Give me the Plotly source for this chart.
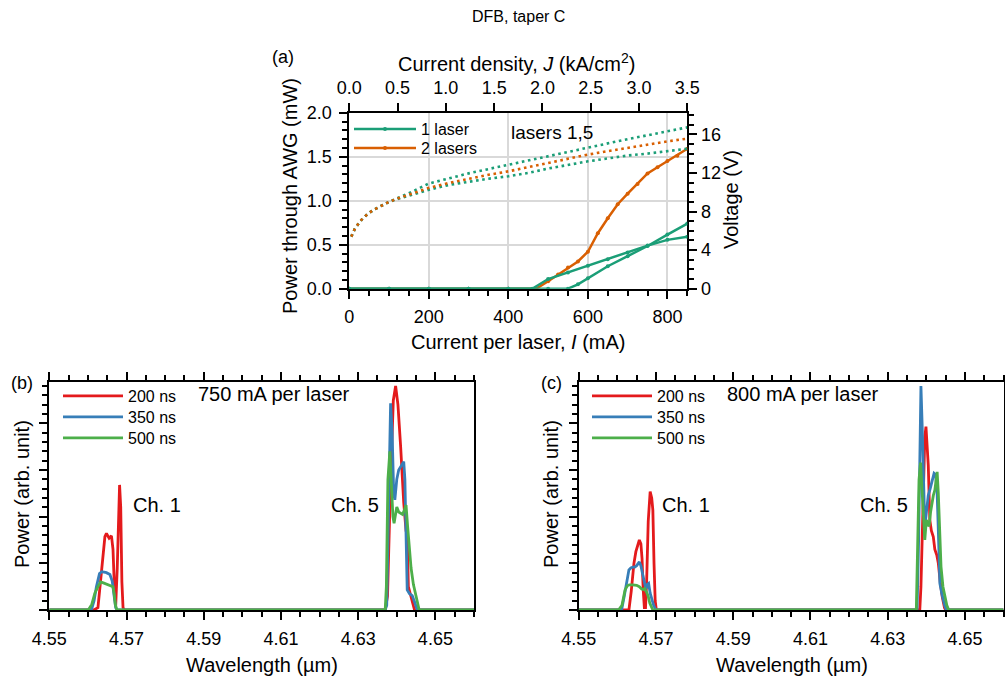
import plotly.graph_objects as go

W, H = 1005, 679
FONT = "Liberation Sans, Arial, sans-serif"

TEAL = "#1b9e77"
ORANGE = "#d95f02"
RED = "#e41a1c"
BLUE = "#377eb8"
GREEN = "#4daf4a"

# ---------------- (a) L-I-V data ----------------
# single-laser output power, two devices (lasers 1 and 5)
current_1a = [0, 100, 200, 300, 400, 460, 500, 550, 600, 650, 700, 750, 800, 850]
power_1a = [0, 0, 0, 0, 0, 0, 0.11, 0.185, 0.26, 0.335, 0.41, 0.49, 0.555, 0.59]
current_1b = [0, 100, 200, 300, 400, 500, 550, 575, 600, 650, 700, 750, 800, 850]
power_1b = [0, 0, 0, 0, 0, 0, 0, 0.05, 0.12, 0.255, 0.37, 0.485, 0.615, 0.74]
# both lasers driven together
current_2 = [0, 100, 200, 300, 400, 470, 500, 525, 550, 575, 600, 625, 650, 675,
             700, 725, 750, 775, 800, 825, 850]
power_2 = [0, 0, 0, 0, 0, 0, 0.085, 0.16, 0.24, 0.31, 0.42, 0.63, 0.80, 0.96,
           1.08, 1.19, 1.31, 1.38, 1.45, 1.51, 1.59]

# voltages (right axis)
current_v = [5, 15, 30, 45, 60, 80, 100, 125, 150, 200, 250, 300, 350, 400,
             450, 500, 550, 600, 650, 700, 750, 800, 850]
voltage_1a = [5.4, 6.3, 7.1, 7.7, 8.15, 8.6, 9.0, 9.45, 9.9, 10.9, 11.45, 11.95,
              12.4, 12.85, 13.3, 13.75, 14.2, 14.65, 15.05, 15.5, 15.9, 16.3, 16.72]
voltage_2 = [5.4, 6.3, 7.1, 7.7, 8.15, 8.6, 9.0, 9.4, 9.75, 10.45, 10.95, 11.4,
             11.8, 12.16, 12.6, 13.05, 13.45, 13.9, 14.25, 14.6, 14.95, 15.27, 15.55]
voltage_1b = [5.4, 6.3, 7.1, 7.7, 8.15, 8.6, 9.0, 9.35, 9.65, 10.25, 10.75, 11.1,
              11.4, 11.65, 12.0, 12.45, 12.85, 13.2, 13.5, 13.8, 14.0, 14.24, 14.5]

current_density_range = [0.0, 3.5]   # kA/cm^2 for 0 .. 850 mA

# ---------------- (b) spectra at 750 mA ----------------
wl_b_200 = [4.550, 4.5615, 4.5626, 4.5635, 4.5644, 4.5648, 4.5655, 4.5661, 4.5665,
            4.5669, 4.5672, 4.5676, 4.5680, 4.5682, 4.5685, 4.5688, 4.5691, 4.5695,
            4.6370, 4.6376, 4.6384, 4.6391, 4.6397, 4.6403, 4.6410, 4.6418, 4.6424,
            4.6427, 4.6430, 4.6437, 4.6446, 4.660]
pw_b_200 = [0, 0, 0.05, 0.86, 1.57, 1.64, 1.54, 1.59, 1.3,
            0.4, 0.1, 0.9, 2.3, 2.68, 2.2, 0.6, 0.05, 0,
            0, 0.3, 2.79, 4.49, 4.8, 4.4, 3.5, 2.3, 1.7,
            1.6, 0.5, 0.25, 0, 0]
wl_b_350 = [4.550, 4.5609, 4.5616, 4.5622, 4.5630, 4.5636, 4.5642, 4.5648, 4.5657,
            4.5663, 4.5668, 4.5672, 4.5676,
            4.6370, 4.6374, 4.6380, 4.6384, 4.6388, 4.6392, 4.6395, 4.6400, 4.6405,
            4.6412, 4.6418, 4.6421, 4.6424, 4.6427, 4.6433, 4.6440, 4.6447, 4.6453, 4.660]
pw_b_350 = [0, 0, 0.2, 0.5, 0.78, 0.82, 0.81, 0.8, 0.76,
            0.62, 0.3, 0.05, 0,
            0, 0.1, 2.79, 4.43, 3.8, 2.5, 2.36, 2.8, 3.0,
            3.1, 3.18, 2.8, 1.5, 0.43, 0.35, 0.31, 0.15, 0, 0]
wl_b_500 = [4.550, 4.5601, 4.5610, 4.5618, 4.5626, 4.5633, 4.5640, 4.5648, 4.5657,
            4.5665, 4.5668, 4.5671, 4.5675,
            4.6370, 4.6373, 4.6377, 4.6382, 4.6386, 4.6390, 4.6393, 4.6397, 4.6400,
            4.6405, 4.6410, 4.6415, 4.6420, 4.6424, 4.6428, 4.6433, 4.6437, 4.6443,
            4.6448, 4.6453, 4.6458, 4.660]
pw_b_500 = [0, 0, 0.12, 0.36, 0.5, 0.6, 0.58, 0.55, 0.52,
            0.5, 0.35, 0.12, 0,
            0, 0.5, 2.79, 3.4, 2.8, 2.0, 1.86, 2.1, 2.21,
            2.1, 2.07, 2.05, 2.15, 2.25, 1.8, 1.2, 0.9, 0.55,
            0.36, 0.15, 0, 0]

# ---------------- (c) spectra at 800 mA ----------------
wl_c_200 = [4.550, 4.5630, 4.5636, 4.5643, 4.5648, 4.5652, 4.5657, 4.5661, 4.5664,
            4.5667, 4.5670, 4.5673, 4.5676, 4.5680, 4.5685, 4.5689, 4.5692, 4.5695,
            4.5698, 4.5701,
            4.6383, 4.6386, 4.6392, 4.6396, 4.6399, 4.6402, 4.6405, 4.6409, 4.6413,
            4.6418, 4.6422, 4.6427, 4.6431, 4.6436, 4.6441, 4.6447, 4.6450, 4.660]
pw_c_200 = [0, 0, 0.4, 1.0, 1.25, 1.36, 1.5, 1.42, 1.1,
            0.43, 0.05, 0.05, 0.64, 1.9, 2.54, 2.4, 2.14, 1.0,
            0.2, 0,
            0, 0.5, 2.79, 3.7, 3.93, 3.6, 3.1, 1.93, 1.7,
            1.57, 1.3, 1.18, 1.0, 0.6, 0.29, 0.05, 0, 0]
wl_c_350 = [4.550, 4.5611, 4.5618, 4.5624, 4.5630, 4.5635, 4.5640, 4.5645, 4.5650,
            4.5657, 4.5661, 4.5666, 4.5671, 4.5674, 4.5678, 4.5681, 4.5685, 4.5690,
            4.5694, 4.5700,
            4.6376, 4.6380, 4.6383, 4.6386, 4.6389, 4.6392, 4.6395, 4.6398, 4.6402,
            4.6405, 4.6410, 4.6415, 4.6420, 4.6424, 4.6428, 4.6431, 4.6435, 4.6440,
            4.6444, 4.6448, 4.6452, 4.660]
pw_c_350 = [0, 0, 0.3, 0.6, 0.86, 0.9, 0.92, 0.92, 0.95,
            1.03, 0.95, 0.75, 0.55, 0.45, 0.55, 0.57, 0.36, 0.2,
            0.1, 0,
            0, 1.5, 3.5, 4.8, 4.0, 2.8, 2.1, 1.93, 2.3,
            2.46, 2.6, 2.8, 2.93, 2.9, 2.5, 1.71, 0.57, 0.35,
            0.21, 0.08, 0, 0]
wl_c_500 = [4.550, 4.5603, 4.5612, 4.5620, 4.5626, 4.5631, 4.5640, 4.5650, 4.5657,
            4.5663, 4.5667, 4.5671, 4.5676, 4.5680, 4.5684, 4.5688, 4.5692,
            4.6374, 4.6378, 4.6381, 4.6385, 4.6389, 4.6392, 4.6396, 4.6400, 4.6404,
            4.6407, 4.6411, 4.6414, 4.6418, 4.6422, 4.6425, 4.6428, 4.6431, 4.6433,
            4.6436, 4.6438, 4.6443, 4.6448, 4.6453, 4.6458, 4.660]
pw_c_500 = [0, 0, 0.1, 0.43, 0.52, 0.54, 0.54, 0.53, 0.5,
            0.45, 0.44, 0.46, 0.38, 0.29, 0.15, 0.05, 0,
            0, 1.5, 2.79, 3.16, 2.6, 2.0, 1.5, 1.93, 1.85,
            1.79, 2.1, 2.29, 2.45, 2.57, 2.8, 2.96, 2.5, 2.07,
            1.4, 0.93, 0.5, 0.29, 0.1, 0, 0]

pulse_labels = ["200 ns", "350 ns", "500 ns"]
pulse_colors = [RED, BLUE, GREEN]


def px(x):
    return x / W


def py(y):
    return (H - y) / H


fig = go.Figure()

# (a) power curves; each legend entry lives in its own one-row legend
fig.add_trace(go.Scatter(x=current_2, y=power_2, xaxis="x", yaxis="y",
                         mode="lines+markers", name="2 lasers", legend="legend2",
                         line=dict(color=ORANGE, width=2.5),
                         marker=dict(color=ORANGE, size=4)))
fig.add_trace(go.Scatter(x=current_1a, y=power_1a, xaxis="x", yaxis="y",
                         mode="lines+markers", name="1 laser", legend="legend",
                         line=dict(color=TEAL, width=2.5),
                         marker=dict(color=TEAL, size=4)))
fig.add_trace(go.Scatter(x=current_1b, y=power_1b, xaxis="x", yaxis="y",
                         mode="lines+markers", showlegend=False,
                         line=dict(color=TEAL, width=2.5),
                         marker=dict(color=TEAL, size=4)))

# (a) voltage curves, dotted, right axis
for xs, ys, c in [(current_v, voltage_1b, TEAL), (current_v, voltage_1a, TEAL),
                  (current_v, voltage_2, ORANGE)]:
    fig.add_trace(go.Scatter(x=xs, y=ys, xaxis="x", yaxis="y2", mode="lines",
                             showlegend=False,
                             line=dict(color=c, width=2.6, dash="2.6px,3.6px")))

# carrier trace for the current-density axis
fig.add_trace(go.Scatter(x=current_density_range, y=[None, None], xaxis="x2",
                         yaxis="y", mode="lines", showlegend=False,
                         hoverinfo="skip"))

# (b) and (c) spectra
spectra_b = [(wl_b_200, pw_b_200), (wl_b_350, pw_b_350), (wl_b_500, pw_b_500)]
spectra_c = [(wl_c_200, pw_c_200), (wl_c_350, pw_c_350), (wl_c_500, pw_c_500)]
for i, ((xs, ys), name, c) in enumerate(zip(spectra_b, pulse_labels, pulse_colors)):
    fig.add_trace(go.Scatter(x=xs, y=ys, xaxis="x3", yaxis="y3", mode="lines",
                             name=name, legend=f"legend{3 + i}",
                             line=dict(color=c, width=2.8)))
for i, ((xs, ys), name, c) in enumerate(zip(spectra_c, pulse_labels, pulse_colors)):
    fig.add_trace(go.Scatter(x=xs, y=ys, xaxis="x4", yaxis="y4", mode="lines",
                             name=name, legend=f"legend{6 + i}",
                             line=dict(color=c, width=2.8)))

TICKFONT = dict(family=FONT, size=18, color="black")
frame = dict(showline=True, linewidth=2, linecolor="black", zeroline=False,
             ticks="outside", ticklen=8, tickwidth=2, tickcolor="black",
             tickfont=TICKFONT, layer="below traces", automargin=False)


def minor_ticks(step):
    return dict(dtick=step, ticks="outside", ticklen=5, tickwidth=2,
                tickcolor="black", showgrid=False)


def one_row_legend(x_left, y_mid, width=60):
    return dict(x=px(x_left), y=py(y_mid - 16), xanchor="left", yanchor="top",
                bgcolor="rgba(0,0,0,0)", itemwidth=width,
                font=dict(family=FONT, size=16, color="black"))


fig.update_layout(
    template="none",
    width=W, height=H,
    margin=dict(l=0, r=0, t=0, b=0, pad=0, autoexpand=False),
    paper_bgcolor="white", plot_bgcolor="white",
    font=dict(family=FONT, color="black"),
    showlegend=True,
    xaxis=dict(frame, domain=[px(349.3), px(687.3)], anchor="y",
               range=[0, 850], tick0=0, dtick=200, ticklabelstandoff=3,
               showgrid=True, gridcolor="#d9d9d9", gridwidth=2,
               minor=minor_ticks(50)),
    xaxis2=dict(frame, overlaying="x", side="top", anchor="y",
                range=[0, 3.5], tick0=0, dtick=0.5, tickformat=".1f",
                ticklabelstandoff=2, showgrid=False),
    yaxis=dict(frame, domain=[py(288.7), py(112.7)], anchor="x",
               range=[0, 2.0], tick0=0, dtick=0.5, tickformat=".1f",
               ticklabelstandoff=4,
               showgrid=True, gridcolor="#d9d9d9", gridwidth=2,
               minor=minor_ticks(0.1)),
    yaxis2=dict(frame, overlaying="y", side="right", anchor="x",
                range=[0, 18.24], tick0=0, dtick=4, showgrid=False,
                minor=minor_ticks(1)),
    xaxis3=dict(frame, domain=[px(49.3), px(474.0)], anchor="y3",
                range=[4.55, 4.66], tick0=4.55, dtick=0.02, tickformat=".2f",
                ticklabelstandoff=3,
                mirror="ticks", showgrid=False, minor=minor_ticks(0.005)),
    yaxis3=dict(frame, domain=[py(610), py(382)], anchor="x3",
                range=[0, 4.886], tick0=0, dtick=1, showticklabels=False,
                mirror=True, showgrid=False, minor=minor_ticks(0.2)),
    xaxis4=dict(frame, domain=[px(578.7), px(1003.6)], anchor="y4",
                range=[4.55, 4.66], tick0=4.55, dtick=0.02, tickformat=".2f",
                ticklabelstandoff=3,
                mirror="ticks", showgrid=False, minor=minor_ticks(0.005)),
    yaxis4=dict(frame, domain=[py(610), py(382)], anchor="x4",
                range=[0, 4.886], tick0=0, dtick=1, showticklabels=False,
                mirror=True, showgrid=False, minor=minor_ticks(0.2)),
    legend=one_row_legend(349, 128, 62),
    legend2=one_row_legend(349, 147, 62),
    legend3=one_row_legend(58, 395),
    legend4=one_row_legend(58, 416),
    legend5=one_row_legend(58, 437),
    legend6=one_row_legend(587, 395),
    legend7=one_row_legend(587, 416),
    legend8=one_row_legend(587, 437),
)


def label(text, x, y, size, xanchor="center", angle=0):
    fig.add_annotation(text=text, x=px(x), y=py(y), xref="paper", yref="paper",
                       xanchor=xanchor, yanchor="middle", showarrow=False,
                       textangle=angle,
                       font=dict(family=FONT, size=size, color="black"))


label("DFB, taper C", 518, 16, 16)
label("(a)", 283, 57, 18)
label("(b)", 22, 383, 18)
label("(c)", 551, 383, 18)
label("Current density, <i>J</i> (kA/cm<sup>2</sup>)", 517, 62, 20)
label("Current per laser, <i>I</i> (mA)", 518, 342, 20)
label("Power through AWG (mW)", 290, 196, 20, angle=-90)
label("Voltage (V)", 731, 200, 20, angle=-90)
label("lasers 1,5", 509, 133, 19, xanchor="left")
label("750 mA per laser", 196, 394, 20, xanchor="left")
label("800 mA per laser", 725, 394, 20, xanchor="left")
label("Ch. 1", 131, 505, 20, xanchor="left")
label("Ch. 5", 329, 505, 20, xanchor="left")
label("Ch. 1", 660, 505, 20, xanchor="left")
label("Ch. 5", 858, 505, 20, xanchor="left")
label("Wavelength (µm)", 262, 665, 20)
label("Wavelength (µm)", 792, 665, 20)
label("Power (arb. unit)", 22, 494, 20, angle=-90)
label("Power (arb. unit)", 551, 494, 20, angle=-90)

fig.write_html("out.html")
